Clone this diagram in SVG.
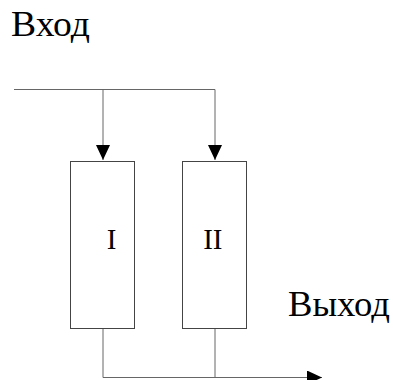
<svg xmlns="http://www.w3.org/2000/svg" width="393" height="380" viewBox="0 0 393 380">
<style>
.t{font-family:"Liberation Serif","Times New Roman",serif;fill:#000}
.ln{stroke:#666;stroke-width:1;fill:none}
.bx{stroke:#444;stroke-width:1;fill:#fff}
</style>
<defs>
<marker id="ah" markerWidth="15" markerHeight="14" refX="15" refY="7" orient="auto" markerUnits="userSpaceOnUse">
<path d="M0,0 L15,7 L0,14 Z" fill="#000"/>
</marker>
</defs>
<rect width="393" height="380" fill="#fff"/>
<text class="t" x="11" y="36" font-size="36" textLength="79" lengthAdjust="spacingAndGlyphs">Вход</text>
<text class="t" x="288" y="316" font-size="36" textLength="102" lengthAdjust="spacingAndGlyphs">Выход</text>
<g id="connectors">
<line class="ln" x1="14" y1="89.5" x2="215" y2="89.5"/>
<line class="ln" x1="103" y1="89.5" x2="103" y2="160" marker-end="url(#ah)"/>
<line class="ln" x1="215" y1="89.5" x2="215" y2="160" marker-end="url(#ah)"/>
<line class="ln" x1="103" y1="329" x2="103" y2="377.5"/>
<line class="ln" x1="215" y1="329" x2="215" y2="377.5"/>
<line class="ln" x1="103" y1="377.5" x2="322" y2="377.5" marker-end="url(#ah)"/>
</g>
<g id="node-I">
<rect class="bx" x="70.5" y="161.5" width="64" height="167"/>
<text class="t" x="111.7" y="248.5" font-size="29" text-anchor="middle">I</text>
</g>
<g id="node-II">
<rect class="bx" x="182.5" y="161.5" width="64" height="167"/>
<text class="t" x="212.8" y="248.5" font-size="29" text-anchor="middle">II</text>
</g>
</svg>
